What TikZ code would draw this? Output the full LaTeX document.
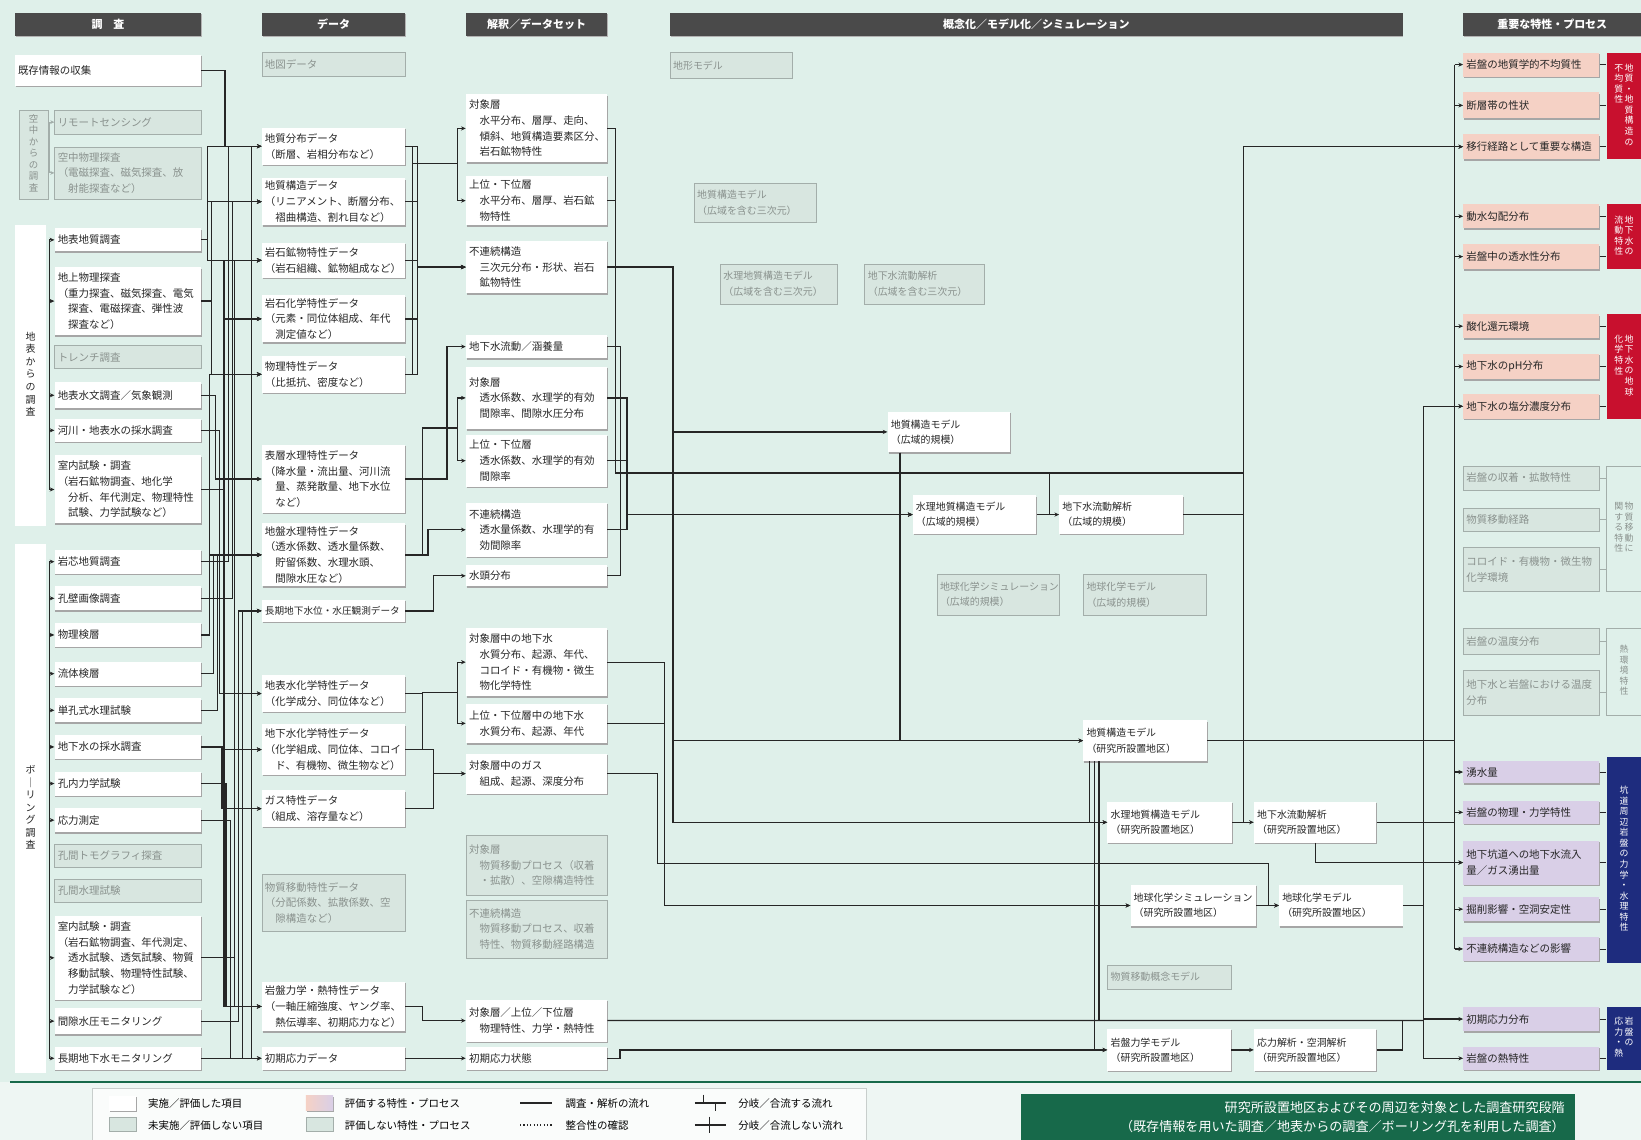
\documentclass[tikz,border=0pt]{standalone}
\usepackage{fontspec}
\setmainfont{Noto Sans CJK JP}
\usetikzlibrary{arrows.meta,shadows}

\definecolor{bgmint}{HTML}{DFF0EA}
\definecolor{legbg}{HTML}{EEF6F3}
\definecolor{gbg}{HTML}{D8E6E0}
\definecolor{gline}{HTML}{A3AEAA}
\definecolor{gtext}{HTML}{8A928E}
\definecolor{pinkbg}{HTML}{F5D1C5}
\definecolor{lavbg}{HTML}{D9CFE7}
\definecolor{redlab}{HTML}{C8102E}
\definecolor{bluelab}{HTML}{1E2C7E}
\definecolor{hdrgray}{HTML}{4A4A4A}
\definecolor{grn}{HTML}{17694A}

\newcommand{\vcol}[1]{\begin{tabular}[t]{@{}c@{}}#1\end{tabular}}

\tikzset{
  txt/.style={font=\fontsize{10}{15}\selectfont},
  mtxt/.style={font=\fontsize{9.5}{14.5}\selectfont},
  wbox/.style={txt, anchor=north west, fill=white, align=left, inner xsep=3pt, inner ysep=1pt,
    text=black!85, drop shadow={shadow xshift=0.8pt, shadow yshift=-1.4pt, fill=black!35, opacity=1}},
  gbox/.style={txt, anchor=north west, fill=gbg, draw=gline, line width=0.4pt, align=left,
    inner xsep=3pt, inner ysep=1pt, text=gtext},
  pbox/.style={wbox, fill=pinkbg},
  lbox/.style={wbox, fill=lavbg},
  hdr/.style={anchor=north west, fill=hdrgray, text=white, minimum height=22pt, inner sep=0pt,
    font=\fontsize{10.5}{12}\selectfont\bfseries,
    drop shadow={shadow xshift=0.8pt, shadow yshift=-1.2pt, fill=black!30, opacity=1}},
  lstrip/.style={anchor=north west, fill=white, minimum width=30pt, inner sep=0pt,
    font=\fontsize{9.5}{12}\selectfont, text=black!85},
  rlab/.style={anchor=north west, minimum width=33pt, inner sep=0pt, text=white,
    font=\fontsize{8.5}{10}\selectfont},
  conn/.style={draw=black!85, line width=1.2pt},
  arr/.style={conn, -{Stealth[length=4.5pt,width=4pt]}},
}

\begin{document}
\begin{tikzpicture}[x=1pt,y=-1pt]
\useasboundingbox (0,0) rectangle (1568,1089);

% Background
\fill[bgmint] (0,0) rectangle (1568,1034);
\fill[legbg] (0,1034) rectangle (1568,1089);
\draw[grn, line width=1.6pt] (10,1034) -- (1568,1034);

% Headers
\node[hdr, minimum width=178pt] (hS) at (14,12) {調　査};
\node[hdr, minimum width=137pt] (hD) at (250,12) {データ};
\node[hdr, minimum width=135pt] (hI) at (445,12) {解釈／データセット};
\node[hdr, minimum width=700pt] (hM) at (640,12) {概念化／モデル化／シミュレーション};
\node[hdr, minimum width=170pt] (hP) at (1398,12) {重要な特性・プロセス};

% Survey column
\node[wbox, text width=172pt, minimum height=30pt] (s0) at (14,52) {既存情報の収集};
\node[gbox, minimum width=28pt, minimum height=85pt, align=center, inner sep=0pt,
  font=\fontsize{9}{11}\selectfont] (ga) at (18,105) {\vcol{空\\中\\か\\ら\\の\\調\\査}};
\node[lstrip, minimum height=287pt] (gs) at (14,215) {\vcol{地\\表\\か\\ら\\の\\調\\査}};
\node[lstrip, minimum height=505pt] (gb) at (14,520) {\vcol{ボ\\｜\\リ\\ン\\グ\\調\\査}};

\foreach \nm/\st/\yt/\yb/\tx in {
  a1/gbox/105/128/{リモートセンシング},
  a2/gbox/140/190/{空中物理探査\\（電磁探査、磁気探査、放\\　射能探査など）},
  s1/wbox/218/240/{地表地質調査},
  s2/wbox/255/320/{地上物理探査\\（重力探査、磁気探査、電気\\　探査、電磁探査、弾性波\\　探査など）},
  s3/gbox/330/352/{トレンチ調査},
  s4/wbox/365/390/{地表水文調査／気象観測},
  s5/wbox/400/422/{河川・地表水の採水調査},
  s6/wbox/435/500/{室内試験・調査\\（岩石鉱物調査、地化学\\　分析、年代測定、物理特性\\　試験、力学試験など）},
  b1/wbox/525/548/{岩芯地質調査},
  b2/wbox/560/583/{孔壁画像調査},
  b3/wbox/595/618/{物理検層},
  b4/wbox/632/655/{流体検層},
  b5/wbox/667/690/{単孔式水理試験},
  b6/wbox/702/725/{地下水の採水調査},
  b7/wbox/737/760/{孔内力学試験},
  b8/wbox/772/795/{応力測定},
  b9/gbox/806/828/{孔間トモグラフィ探査},
  b10/gbox/840/862/{孔間水理試験},
  b11/wbox/875/955/{室内試験・調査\\（岩石鉱物調査、年代測定、\\　透水試験、透気試験、物質\\　移動試験、物理特性試験、\\　力学試験など）},
  b12/wbox/963/988/{間隙水圧モニタリング},
  b13/wbox/1000/1022/{長期地下水モニタリング}
}{
  \pgfmathsetmacro\bh{\yb-\yt}
  \node[\st, text width=134pt, minimum height=\bh pt] (\nm) at (52,\yt) {\tx};
}

% Data column
\foreach \nm/\st/\yt/\yb/\tx in {
  d0/gbox/50/73/{地図データ},
  d1/wbox/122/157/{地質分布データ\\（断層、岩相分布など）},
  d2/wbox/170/215/{地質構造データ\\（リニアメント、断層分布、\\　褶曲構造、割れ目など）},
  d3/wbox/232/265/{岩石鉱物特性データ\\（岩石組織、鉱物組成など）},
  d4/wbox/282/327/{岩石化学特性データ\\（元素・同位体組成、年代\\　測定値など）},
  d5/wbox/340/375/{物理特性データ\\（比抵抗、密度など）},
  d6/wbox/425/490/{表層水理特性データ\\（降水量・流出量、河川流\\　量、蒸発散量、地下水位\\　など）},
  d7/wbox/500/560/{地盤水理特性データ\\（透水係数、透水量係数、\\　貯留係数、水理水頭、\\　間隙水圧など）},
  d8/wbox/573/594/{{\fontsize{9.2}{14}\selectfont 長期地下水位・水圧観測データ}},
  d9/wbox/645/680/{地表水化学特性データ\\（化学成分、同位体など）},
  d10/wbox/692/740/{地下水化学特性データ\\（化学組成、同位体、コロイ\\　ド、有機物、微生物など）},
  d11/wbox/755/790/{ガス特性データ\\（組成、溶存量など）},
  d12/gbox/835/890/{物質移動特性データ\\（分配係数、拡散係数、空\\　隙構造など）},
  d13/wbox/938/985/{岩盤力学・熱特性データ\\（一軸圧縮強度、ヤング率、\\　熱伝導率、初期応力など）},
  d14/wbox/1000/1022/{初期応力データ}
}{
  \pgfmathsetmacro\bh{\yb-\yt}
  \node[\st, text width=131pt, minimum height=\bh pt] (\nm) at (250,\yt) {\tx};
}

% Interpretation column
\foreach \nm/\st/\yt/\yb/\tx in {
  i1/wbox/90/155/{対象層\\　水平分布、層厚、走向、\\　傾斜、地質構造要素区分、\\　岩石鉱物特性},
  i2/wbox/168/215/{上位・下位層\\　水平分布、層厚、岩石鉱\\　物特性},
  i3/wbox/230/280/{不連続構造\\　三次元分布・形状、岩石\\　鉱物特性},
  i4/wbox/320/342/{地下水流動／涵養量},
  i5/wbox/350/410/{対象層\\　透水係数、水理学的有効\\　間隙率、間隙水圧分布},
  i6/wbox/415/465/{上位・下位層\\　透水係数、水理学的有効\\　間隙率},
  i7/wbox/480/532/{不連続構造\\　透水量係数、水理学的有\\　効間隙率},
  i8/wbox/540/560/{水頭分布},
  i9/wbox/600/665/{対象層中の地下水\\　水質分布、起源、年代、\\　コロイド・有機物・微生\\　物化学特性},
  i10/wbox/672/710/{上位・下位層中の地下水\\　水質分布、起源、年代},
  i11/wbox/720/758/{対象層中のガス\\　組成、起源、深度分布},
  i12/gbox/798/855/{対象層\\　物質移動プロセス（収着\\　・拡散）、空隙構造特性},
  i13/gbox/860/915/{不連続構造\\　物質移動プロセス、収着\\　特性、物質移動経路構造},
  i14/wbox/955/995/{対象層／上位／下位層\\　物理特性、力学・熱特性},
  i15/wbox/1000/1022/{初期応力状態}
}{
  \pgfmathsetmacro\bh{\yb-\yt}
  \node[\st, text width=129pt, minimum height=\bh pt] (\nm) at (445,\yt) {\tx};
}

% Models
\foreach \nm/\st/\xl/\xr/\yt/\yb/\tx in {
  gm1/gbox/640/757/50/75/{地形モデル},
  gm2/gbox/663/780/175/212/{地質構造モデル\\（広域を含む三次元）},
  gm3/gbox/688/800/252/290/{水理地質構造モデル\\（広域を含む三次元）},
  gm4/gbox/826/940/252/290/{地下水流動解析\\（広域を含む三次元）},
  mgw/wbox/848/965/393/432/{地質構造モデル\\（広域的規模）},
  mhw/wbox/872/990/473/510/{水理地質構造モデル\\（広域的規模）},
  mfw/wbox/1012/1130/473/510/{地下水流動解析\\（広域的規模）},
  gm5/gbox/895/1012/548/588/{地球化学シミュレーション\\（広域的規模）},
  gm6/gbox/1035/1152/548/588/{地球化学モデル\\（広域的規模）},
  mgs/wbox/1035/1153/688/727/{地質構造モデル\\（研究所設置地区）},
  mhs/wbox/1058/1177/766/805/{水理地質構造モデル\\（研究所設置地区）},
  mfs/wbox/1198/1315/766/805/{地下水流動解析\\（研究所設置地区）},
  mss/wbox/1080/1200/845/885/{地球化学シミュレーション\\（研究所設置地区）},
  mcs/wbox/1222/1340/845/885/{地球化学モデル\\（研究所設置地区）},
  gm7/gbox/1058/1176/922/945/{物質移動概念モデル},
  mms/wbox/1058/1176/983/1023/{岩盤力学モデル\\（研究所設置地区）},
  mas/wbox/1198/1315/983/1023/{応力解析・空洞解析\\（研究所設置地区）}
}{
  \pgfmathsetmacro\bw{\xr-\xl-6}
  \pgfmathsetmacro\bh{\yb-\yt}
  \node[\st, mtxt, text width=\bw pt, minimum height=\bh pt] (\nm) at (\xl,\yt) {\tx};
}

% Important properties / processes
\foreach \nm/\st/\yt/\yb/\tx in {
  p1/pbox/50/73/{岩盤の地質学的不均質性},
  p2/pbox/88/113/{断層帯の性状},
  p3/pbox/128/152/{移行経路として重要な構造},
  p4/pbox/195/218/{動水勾配分布},
  p5/pbox/233/257/{岩盤中の透水性分布},
  p6/pbox/300/323/{酸化還元環境},
  p7/pbox/338/362/{地下水のpH分布},
  p8/pbox/376/400/{地下水の塩分濃度分布},
  q1/gbox/445/468/{岩盤の収着・拡散特性},
  q2/gbox/485/507/{物質移動経路},
  q3/gbox/523/565/{コロイド・有機物・微生物\\化学環境},
  q4/gbox/600/625/{岩盤の温度分布},
  q5/gbox/640/683/{地下水と岩盤における温度\\分布},
  u1/lbox/727/748/{湧水量},
  u2/lbox/765/787/{岩盤の物理・力学特性},
  u3/lbox/803/845/{地下坑道への地下水流入\\量／ガス湧出量},
  u4/lbox/857/880/{掘削影響・空洞安定性},
  u5/lbox/895/918/{不連続構造などの影響},
  u6/lbox/962/985/{初期応力分布},
  u7/lbox/1000/1022/{岩盤の熱特性}
}{
  \pgfmathsetmacro\bh{\yb-\yt}
  \node[\st, text width=124pt, minimum height=\bh pt] (\nm) at (1398,\yt) {\tx};
}

% Group labels on the right
\node[rlab, fill=redlab, minimum height=102pt] (L1) at (1535,50)
  {\vcol{不\\均\\質\\性}\hspace{1.5pt}\vcol{地\\質\\・\\地\\質\\構\\造\\の}};
\node[rlab, fill=redlab, minimum height=62pt] (L2) at (1535,195)
  {\vcol{流\\動\\特\\性}\hspace{1.5pt}\vcol{地\\下\\水\\の}};
\node[rlab, fill=redlab, minimum height=100pt] (L3) at (1535,300)
  {\vcol{化\\学\\特\\性}\hspace{1.5pt}\vcol{地\\下\\水\\の\\地\\球}};
\node[rlab, fill=bgmint, draw=gline, line width=0.4pt, text=gtext, minimum height=120pt] (L4) at (1535,445)
  {\vcol{関\\す\\る\\特\\性}\hspace{1.5pt}\vcol{物\\質\\移\\動\\に}};
\node[rlab, fill=bgmint, draw=gline, line width=0.4pt, text=gtext, minimum height=83pt] (L5) at (1535,600)
  {\vcol{熱\\環\\境\\特\\性}};
\node[rlab, fill=bluelab, minimum height=197pt] (L6) at (1535,723)
  {\vcol{坑\\道\\周\\辺\\岩\\盤\\の\\力\\学\\・\\水\\理\\特\\性}};
\node[rlab, fill=bluelab, minimum height=60pt] (L7) at (1535,962)
  {\vcol{応\\力\\・\\熱}\hspace{1.5pt}\vcol{岩\\盤\\の}};

\foreach \r/\l in {p1/L1,p2/L1,p3/L1,p4/L2,p5/L2,p6/L3,p7/L3,p8/L3,
    u1/L6,u2/L6,u3/L6,u4/L6,u5/L6,u6/L7,u7/L7}
  \draw[conn, line width=0.5pt] (\r.east) -- (\r.east -| \l.west);
\foreach \r/\l in {q1/L4,q2/L4,q3/L4,q4/L5,q5/L5}
  \draw[gline, line width=0.5pt] (\r.east) -- (\r.east -| \l.west);

% Survey group brackets
\coordinate (GL) at (47,0);
\draw[gline, line width=0.8pt] (GL |- a1.west) -- (GL |- a2.west);
\foreach \n in {a1,a2}
  \draw[gline, line width=0.8pt, -{Stealth[length=4pt,width=3.5pt]}] (GL |- \n.west) -- (\n.west);
\draw[conn] (GL |- s1.west) -- (GL |- s6.west);
\foreach \n in {s1,s2,s4,s5,s6}
  \draw[arr] (GL |- \n.west) -- (\n.west);
\draw[conn] (GL |- b1.west) -- (GL |- b13.west);
\foreach \n in {b1,b2,b3,b4,b5,b6,b7,b8,b11,b12,b13}
  \draw[arr] (GL |- \n.west) -- (\n.west);

% Survey -> data
\draw[arr] (s0.east) -- (s0.east -| 215,0) |- (d1.west);
\coordinate (J0) at (240,0 |- d1.west);
\foreach \d in {d2,d3,d4,d5,d6,d7,d8,d9,d10,d11,d13,d14}
  \draw[arr] (J0) |- (\d.west);
\foreach \s/\lx/\ds in {s1/198/{d1,d2,d3}, s2/202/{d2,d5}, s4/206/{d6}, s5/210/{d9},
    s6/214/{d3,d4,d5,d7,d13}, b1/218/{d1,d2,d3}, b2/222/{d2}, b3/200/{d5,d7},
    b4/204/{d7}, b5/208/{d7}, b6/212/{d10,d11}, b7/216/{d13}, b8/220/{d14},
    b11/224/{d3,d4,d7,d13}, b12/228/{d8}, b13/232/{d8,d10}}
  \foreach \d in \ds
    \draw[arr] (\s.east) -- (\s.east -| \lx,0) |- (\d.west);

% Data -> interpretation
\coordinate (JB1) at (437,156);
\coordinate (JB2) at (437,409);
\coordinate (JB3) at (437,662);
\foreach \d in {d1,d2,d3,d4,d5} {
  \draw[conn] (\d.east) -- (\d.east -| 394,0) |- (JB1);
  \draw[arr] (\d.east) -- (\d.east -| 399,0) |- (i3.west);
}
\foreach \i in {i1,i2} \draw[arr] (JB1) |- (\i.west);
\draw[arr] (d6.east) -- (d6.east -| 427,0) |- (i4.west);
\draw[conn] (d7.east) -- (d7.east -| 404,0) |- (JB2);
\foreach \i in {i5,i6} \draw[arr] (JB2) |- (\i.west);
\draw[arr] (d7.east) -- (d7.east -| 409,0) |- (i7.west);
\draw[arr] (d8.east) -- (d8.east -| 414,0) |- (i8.west);
\foreach \d in {d9,d10} \draw[conn] (\d.east) -- (\d.east -| 404,0) |- (JB3);
\foreach \i in {i9,i10} \draw[arr] (JB3) |- (\i.west);
\foreach \d in {d10,d11} \draw[arr] (\d.east) -- (\d.east -| 414,0) |- (i11.west);
\draw[arr] (d13.east) -- (d13.east -| 404,0) |- (i14.west);
\draw[arr] (d14.east) -- (i15.west);

% Interpretation -> models
\coordinate (J452) at (1188,452);
\coordinate (J825) at (1212,825);
\coordinate (J970) at (1360,975);
\coordinate (J1003) at (1003,452);
\coordinate (SP) at (1390,0);
\foreach \i in {i1,i2} \draw[conn] (\i.east) -- (\i.east -| 588,0) |- (J452);
\foreach \i in {i4,i8} \draw[conn] (\i.east) -- (\i.east -| 593,0) |- (J452);
\draw[arr] (i3.east) -- (i3.east -| 643,0) |- (mgw.west);
\draw[arr] (i3.east) -- (i3.east -| 643,0) |- (mgs.west);
\draw[arr] (i3.east) -- (i3.east -| 643,0) |- (mhs.west);
\foreach \i in {i5,i6,i7} \draw[arr] (\i.east) -- (\i.east -| 599,0) |- (mhw.west);
\foreach \i in {i9,i10} \draw[arr] (\i.east) -- (\i.east -| 635,0) |- (mss.west);
\draw[arr] (i11.east) -- (i11.east -| 628,0) |- (J825) |- (mcs.west);
\draw[conn] (i14.east) -- (J970);
\draw[arr] (i15.east) -- ++(12,0) |- (mms.west);

% Model links
\draw[arr] ([xshift=12pt]mgw.south west) |- (mhw.west);
\draw[arr] ([xshift=12pt]mgw.south west) |- (mgs.west);
\draw[arr] (mhw.east) -- (mfw.west);
\draw[conn] (J1003) -- (J1003 |- mfw.west);
\draw[conn] (mfw.east) -- (mfw.east -| J452);
\draw[conn] (J452) -- (J452 |- mhs.east);
\draw[arr] (J452) |- (p3.west);
\draw[arr] (mhs.east) -- (mfs.west);
\draw[conn] (mfs.east) -- (SP |- mfs.east);
\draw[conn] (mgs.east) -- (SP |- mgs.east);
\draw[arr] ([xshift=6pt]mgs.south west) |- (mhs.west);
\draw[arr] ([xshift=11pt]mgs.south west) |- (mms.west);
\draw[conn] ([xshift=15pt]mgs.south west) -- ([xshift=15pt]mgs.south west |- J970);
\draw[arr] (mss.east) -- (mcs.west);
\draw[arr] (mfs.south) |- (u3.west);
\draw[conn] (mcs.east) -| (J970);
\draw[arr] (J970 |- p8.west) -- (p8.west);
\draw[conn] (J970 |- p8.west) -- (J970);
\draw[arr] (mms.east) -- (mas.west);
\draw[conn] (mas.east) -| (1340,0 |- J970);
\draw[arr] (J970) |- (u6.west);
\draw[arr] (J970) |- (u7.west);

% Spine to properties
\draw[conn] (SP |- p1.west) -- (SP |- u5.west);
\foreach \r in {p1,p2,p3,p4,p5,p6,p7,p8,u1,u2,u3,u4,u5}
  \draw[arr] (SP |- \r.west) -- (\r.west);

% Legend
\draw[gline!60, fill=white!70!legbg] (88,1040) rectangle (828,1089);
\node[wbox, minimum width=26pt, minimum height=14pt, inner sep=0pt] (k1) at (104,1047) {};
\node[txt, anchor=west] (k1t) at (138,1054) {実施／評価した項目};
\node[gbox, minimum width=26pt, minimum height=14pt, inner sep=0pt] (k2) at (104,1067) {};
\node[txt, anchor=west] (k2t) at (138,1075) {未実施／評価しない項目};
\node[wbox, minimum width=26pt, minimum height=14pt, inner sep=0pt, left color=pinkbg, right color=lavbg] (k3) at (292,1047) {};
\node[txt, anchor=west] (k3t) at (326,1054) {評価する特性・プロセス};
\node[gbox, minimum width=26pt, minimum height=14pt, inner sep=0pt] (k4) at (292,1067) {};
\node[txt, anchor=west] (k4t) at (326,1075) {評価しない特性・プロセス};
\coordinate (k5a) at (497,1054);
\coordinate (k5b) at (527,1054);
\draw[conn] (k5a) -- (k5b);
\node[txt, anchor=west] (k5t) at (537,1054) {調査・解析の流れ};
\coordinate (k6a) at (497,1075);
\coordinate (k6b) at (527,1075);
\draw[conn, dotted] (k6a) -- (k6b);
\node[txt, anchor=west] (k6t) at (537,1075) {整合性の確認};
\coordinate (k7a) at (664,1054);
\coordinate (k7b) at (694,1054);
\draw[conn] (k7a) -- (k7b);
\draw[conn] (672,1046) -- (672,1054);
\draw[conn] (684,1054) -- (684,1062);
\node[txt, anchor=west] (k7t) at (702,1054) {分岐／合流する流れ};
\coordinate (k8a) at (664,1075);
\coordinate (k8b) at (694,1075);
\draw[conn] (k8a) -- (k8b);
\draw[conn] (678,1067) -- (678,1083);
\node[txt, anchor=west] (k8t) at (702,1075) {分岐／合流しない流れ};

\node[anchor=north west, fill=grn, text=white, minimum width=530pt, minimum height=44pt,
  text width=510pt, align=right, inner xsep=10pt, font=\fontsize{12.5}{18}\selectfont] (stage) at (975,1045)
  {研究所設置地区およびその周辺を対象とした調査研究段階\\（既存情報を用いた調査／地表からの調査／ボーリング孔を利用した調査）};
\end{tikzpicture}
\end{document}
